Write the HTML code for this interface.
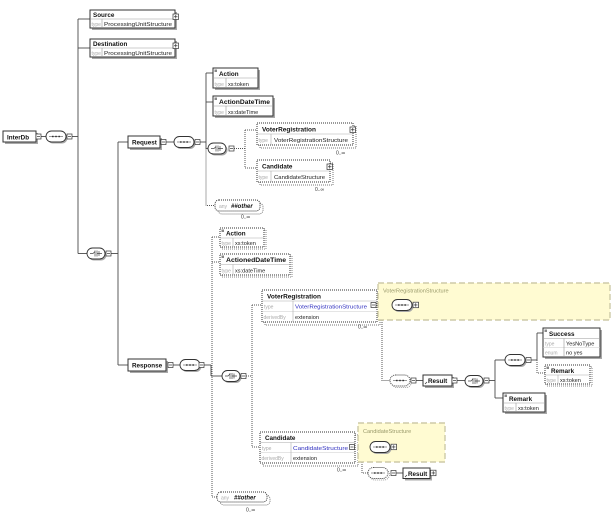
<!DOCTYPE html>
<html><head><meta charset="utf-8"><style>html,body{margin:0;padding:0;background:#fff}svg{display:block}</style></head><body>
<svg width="615" height="523" viewBox="0 0 615 523" xmlns="http://www.w3.org/2000/svg" font-family="'Liberation Sans', sans-serif">
<defs>
  <g id="seq">
    <rect x="1.5" y="1.5" width="20" height="11" rx="5.5" fill="#a8a8a8"/>
    <rect x="0" y="0" width="20" height="11" rx="5.5" fill="#fff" stroke="#333" stroke-width="0.9"/>
    <line x1="3" y1="5.5" x2="17" y2="5.5" stroke="#555" stroke-width="0.6"/>
    <rect x="6" y="4.8" width="1.6" height="1.4" fill="#333"/>
    <rect x="9.2" y="4.8" width="1.6" height="1.4" fill="#333"/>
    <rect x="12.4" y="4.8" width="1.6" height="1.4" fill="#333"/>
  </g>
  <g id="seqd">
    <rect x="1.5" y="1.5" width="20" height="11" rx="5.5" fill="none" stroke="#888" stroke-width="0.8" stroke-dasharray="1,1"/>
    <rect x="0" y="0" width="20" height="11" rx="5.5" fill="#fff" stroke="#333" stroke-width="0.9" stroke-dasharray="1,1"/>
    <line x1="3" y1="5.5" x2="17" y2="5.5" stroke="#555" stroke-width="0.6"/>
    <rect x="6" y="4.8" width="1.6" height="1.4" fill="#333"/>
    <rect x="9.2" y="4.8" width="1.6" height="1.4" fill="#333"/>
    <rect x="12.4" y="4.8" width="1.6" height="1.4" fill="#333"/>
  </g>
  <g id="cho">
    <rect x="1.5" y="1.5" width="18" height="11" rx="5.5" fill="#a8a8a8"/>
    <rect x="0" y="0" width="18" height="11" rx="5.5" fill="#fff" stroke="#333" stroke-width="0.9"/>
    <path d="M3 5.5H6L8 3.5M8 2.5V8.5M10 2.5V8.5M10 5.5H12M12 3V8M12 5.5H15" fill="none" stroke="#444" stroke-width="0.7"/>
  </g>
  <g id="em">
    <rect x="0" y="0" width="5" height="5" fill="#fff" stroke="#333" stroke-width="0.7"/>
    <line x1="1" y1="2.5" x2="4" y2="2.5" stroke="#333" stroke-width="0.7"/>
  </g>
  <g id="ep">
    <rect x="0" y="0" width="5.5" height="5.5" fill="#fff" stroke="#333" stroke-width="0.7"/>
    <line x1="1" y1="2.75" x2="4.5" y2="2.75" stroke="#333" stroke-width="0.7"/>
    <line x1="2.75" y1="1" x2="2.75" y2="4.5" stroke="#333" stroke-width="0.7"/>
  </g>
</defs>

<g stroke="#4a4a4a" stroke-width="0.9" fill="none">
  <line x1="41" y1="136.5" x2="46" y2="136.5"/>
  <line x1="72" y1="136.5" x2="78" y2="136.5"/>
  <line x1="78" y1="19" x2="78" y2="253.5"/>
  <line x1="78" y1="19" x2="90" y2="19"/>
  <line x1="78" y1="48" x2="90" y2="48"/>
  <line x1="78" y1="253.5" x2="87" y2="253.5"/>
  <line x1="111" y1="253.5" x2="118" y2="253.5"/>
  <line x1="118" y1="142" x2="118" y2="365"/>
  <line x1="118" y1="142" x2="128" y2="142"/>
  <line x1="118" y1="365" x2="128" y2="365"/>
  <line x1="166" y1="142" x2="174" y2="142"/>
  <line x1="200" y1="142" x2="206" y2="142"/>
  <line x1="206" y1="73" x2="206" y2="148.5"/>
  <line x1="206" y1="73" x2="213" y2="73"/>
  <line x1="206" y1="102" x2="213" y2="102"/>
  <line x1="206" y1="148.5" x2="208" y2="148.5"/>
  <line x1="173" y1="365" x2="180" y2="365"/>
  <line x1="204" y1="365" x2="211" y2="365"/>
  <line x1="211" y1="365" x2="211" y2="376"/>
  <line x1="211" y1="376" x2="222" y2="376"/>
  <line x1="376" y1="305" x2="392" y2="305"/>
  <line x1="416" y1="380.5" x2="423" y2="380.5"/>
  <line x1="457" y1="380.5" x2="465" y2="380.5"/>
  <line x1="489" y1="380.5" x2="495" y2="380.5"/>
  <line x1="495" y1="360" x2="495" y2="398"/>
  <line x1="495" y1="360" x2="505" y2="360"/>
  <line x1="495" y1="398" x2="503" y2="398"/>
  <line x1="531" y1="360" x2="537" y2="360"/>
  <line x1="537" y1="333" x2="537" y2="360"/>
  <line x1="537" y1="333" x2="543" y2="333"/>
  <line x1="355" y1="447" x2="370" y2="447"/>
  <line x1="396" y1="473" x2="403" y2="473"/>
</g>
<g stroke="#555" stroke-width="1" fill="none" stroke-dasharray="1,1">
  <path d="M206 148.5V205.5H215"/>
  <path d="M234 148.5H245M245 130V168M245 130H257M245 168H257"/>
  <path d="M212 237V497H217M212 237H220M212 262H220"/>
  <path d="M246 376H252M252 305V447M252 305H262M252 447H260"/>
  <path d="M382 320V380.5H390"/>
  <path d="M537 360V373H545"/>
  <path d="M362 462V473H368"/>
</g>

<!-- InterDb -->
<rect x="5" y="133" width="33" height="11" fill="#a8a8a8"/>
<rect x="3" y="131" width="33" height="11" fill="#fff" stroke="#333" stroke-width="1"/>
<text x="7" y="139.5" font-size="6.3" font-weight="bold" fill="#111">InterDb</text>
<use href="#em" x="36" y="134"/>
<use href="#seq" x="46" y="131"/>
<use href="#em" x="67" y="134"/>

<!-- Source -->
<rect x="92" y="12" width="85" height="18" fill="#a8a8a8"/>
<rect x="90" y="10" width="85" height="18" fill="#fff" stroke="#333"/>
<line x1="90" y1="19" x2="175" y2="19" stroke="#999" stroke-width="0.6"/>
<line x1="102" y1="19" x2="102" y2="28" stroke="#999" stroke-width="0.6"/>
<text x="93" y="17" font-size="6.3" font-weight="bold" fill="#111">Source</text>
<text x="91.5" y="26" font-size="5" fill="#aaa">type</text>
<text x="104" y="26" font-size="5.6" fill="#222" textLength="68" lengthAdjust="spacingAndGlyphs">ProcessingUnitStructure</text>
<use href="#ep" x="173" y="14"/>

<!-- Destination -->
<rect x="92" y="41" width="85" height="18" fill="#a8a8a8"/>
<rect x="90" y="39" width="85" height="18" fill="#fff" stroke="#333"/>
<line x1="90" y1="48" x2="175" y2="48" stroke="#999" stroke-width="0.6"/>
<line x1="102" y1="48" x2="102" y2="57" stroke="#999" stroke-width="0.6"/>
<text x="93" y="46" font-size="6.3" font-weight="bold" fill="#111">Destination</text>
<text x="91.5" y="55" font-size="5" fill="#aaa">type</text>
<text x="104" y="55" font-size="5.6" fill="#222" textLength="68" lengthAdjust="spacingAndGlyphs">ProcessingUnitStructure</text>
<use href="#ep" x="173" y="43"/>

<!-- root choice -->
<use href="#cho" x="87" y="248"/>
<use href="#em" x="106" y="251"/>

<!-- Request -->
<rect x="130" y="138" width="32" height="12" fill="#a8a8a8"/>
<rect x="128" y="136" width="32" height="12" fill="#fff" stroke="#333"/>
<text x="132" y="144.5" font-size="6.3" font-weight="bold" fill="#111">Request</text>
<use href="#em" x="161" y="139.5"/>
<use href="#seq" x="174" y="136.5"/>
<use href="#em" x="195" y="139.5"/>

<!-- Request / Action -->
<rect x="215" y="70" width="45" height="20" fill="#a8a8a8"/>
<rect x="213" y="68" width="45" height="20" fill="#fff" stroke="#333"/>
<line x1="213" y1="78" x2="258" y2="78" stroke="#999" stroke-width="0.6"/>
<line x1="226" y1="78" x2="226" y2="88" stroke="#999" stroke-width="0.6"/>
<rect x="214.5" y="69.5" width="2.5" height="2.5" fill="#888"/>
<text x="219" y="76" font-size="6.3" font-weight="bold" fill="#111">Action</text>
<text x="214.5" y="86" font-size="5" fill="#aaa">type</text>
<text x="228" y="86" font-size="5.6" fill="#222">xs:token</text>

<!-- Request / ActionDateTime -->
<rect x="215" y="98" width="60" height="20" fill="#a8a8a8"/>
<rect x="213" y="96" width="60" height="20" fill="#fff" stroke="#333"/>
<line x1="213" y1="106" x2="273" y2="106" stroke="#999" stroke-width="0.6"/>
<line x1="226" y1="106" x2="226" y2="116" stroke="#999" stroke-width="0.6"/>
<rect x="214.5" y="97.5" width="2.5" height="2.5" fill="#888"/>
<text x="219" y="104" font-size="6.3" font-weight="bold" fill="#111" textLength="51" lengthAdjust="spacingAndGlyphs">ActionDateTime</text>
<text x="214.5" y="114" font-size="5" fill="#aaa">type</text>
<text x="228" y="114" font-size="5.6" fill="#222">xs:dateTime</text>

<!-- Request choice -->
<use href="#cho" x="208" y="143"/>
<use href="#em" x="229" y="146"/>

<!-- Request / VoterRegistration -->
<rect x="260" y="126" width="96" height="22" fill="#fff" stroke="#777" stroke-dasharray="1,1"/>
<rect x="257" y="123" width="96" height="22" fill="#fff" stroke="#333" stroke-dasharray="1,1"/>
<line x1="257" y1="134" x2="353" y2="134" stroke="#aaa" stroke-width="0.6"/>
<line x1="271" y1="134" x2="271" y2="145" stroke="#aaa" stroke-width="0.6"/>
<text x="262" y="131.5" font-size="6.3" font-weight="bold" fill="#111" textLength="54" lengthAdjust="spacingAndGlyphs">VoterRegistration</text>
<text x="258.5" y="142" font-size="5" fill="#aaa">type</text>
<text x="274" y="142" font-size="5.6" fill="#222" textLength="74" lengthAdjust="spacingAndGlyphs">VoterRegistrationStructure</text>
<use href="#ep" x="350" y="127"/>
<text x="336" y="154.5" font-size="5" fill="#333">0..∞</text>

<!-- Request / Candidate -->
<rect x="260" y="163" width="73" height="22" fill="#fff" stroke="#777" stroke-dasharray="1,1"/>
<rect x="257" y="160" width="73" height="22" fill="#fff" stroke="#333" stroke-dasharray="1,1"/>
<line x1="257" y1="171" x2="330" y2="171" stroke="#aaa" stroke-width="0.6"/>
<line x1="271" y1="171" x2="271" y2="182" stroke="#aaa" stroke-width="0.6"/>
<text x="262" y="168.5" font-size="6.3" font-weight="bold" fill="#111">Candidate</text>
<text x="258.5" y="179" font-size="5" fill="#aaa">type</text>
<text x="274" y="179" font-size="5.6" fill="#222" textLength="51" lengthAdjust="spacingAndGlyphs">CandidateStructure</text>
<use href="#ep" x="327" y="164"/>
<text x="315" y="191" font-size="5" fill="#333">0..∞</text>

<!-- Request / ##other -->
<rect x="218" y="203" width="45" height="11" rx="4" fill="#fff" stroke="#777" stroke-dasharray="1,1"/>
<rect x="215" y="200" width="45" height="11" rx="4" fill="#fff" stroke="#333" stroke-dasharray="1,1"/>
<text x="219" y="207.8" font-size="5" fill="#aaa">any</text>
<text x="231" y="208" font-size="6" font-weight="bold" font-style="italic" fill="#111">##other</text>
<text x="241" y="218.5" font-size="5" fill="#333">0..∞</text>

<!-- Response -->
<rect x="130" y="361" width="38" height="12" fill="#a8a8a8"/>
<rect x="128" y="359" width="38" height="12" fill="#fff" stroke="#333"/>
<text x="132" y="367.5" font-size="6.3" font-weight="bold" fill="#111">Response</text>
<use href="#em" x="168" y="362.5"/>
<use href="#seq" x="180" y="359.5"/>
<use href="#em" x="199" y="362.5"/>

<!-- Response / Action -->
<rect x="222" y="230" width="44" height="19" fill="#fff" stroke="#888" stroke-dasharray="1,1"/>
<rect x="220" y="228" width="44" height="19" fill="#fff" stroke="#333" stroke-dasharray="1,1"/>
<line x1="220" y1="238" x2="264" y2="238" stroke="#aaa" stroke-width="0.6"/>
<line x1="233" y1="238" x2="233" y2="247" stroke="#aaa" stroke-width="0.6"/>
<rect x="221.5" y="229.5" width="2.5" height="2.5" fill="#888"/>
<text x="226" y="235.5" font-size="6.3" font-weight="bold" fill="#111">Action</text>
<text x="221.5" y="245" font-size="5" fill="#aaa">type</text>
<text x="235" y="245" font-size="5.6" fill="#222">xs:token</text>

<!-- Response / ActionedDateTime -->
<rect x="222" y="256" width="70" height="21" fill="#fff" stroke="#888" stroke-dasharray="1,1"/>
<rect x="220" y="254" width="70" height="21" fill="#fff" stroke="#333" stroke-dasharray="1,1"/>
<line x1="220" y1="264.5" x2="290" y2="264.5" stroke="#aaa" stroke-width="0.6"/>
<line x1="233" y1="264.5" x2="233" y2="275" stroke="#aaa" stroke-width="0.6"/>
<rect x="221.5" y="255.5" width="2.5" height="2.5" fill="#888"/>
<text x="226" y="262" font-size="6.3" font-weight="bold" fill="#111" textLength="60" lengthAdjust="spacingAndGlyphs">ActionedDateTime</text>
<text x="221.5" y="272.5" font-size="5" fill="#aaa">type</text>
<text x="235" y="272.5" font-size="5.6" fill="#222">xs:dateTime</text>

<!-- Response choice -->
<use href="#cho" x="222" y="370.5"/>
<use href="#em" x="241" y="373.5"/>

<!-- Response / VoterRegistration -->
<rect x="265" y="293" width="115" height="32" fill="#fff" stroke="#777" stroke-dasharray="1,1"/>
<rect x="262" y="290" width="115" height="32" fill="#fff" stroke="#333" stroke-dasharray="1,1"/>
<line x1="262" y1="301" x2="377" y2="301" stroke="#aaa" stroke-width="0.6"/>
<line x1="262" y1="311.5" x2="377" y2="311.5" stroke="#ccc" stroke-width="0.6"/>
<line x1="293" y1="301" x2="293" y2="322" stroke="#aaa" stroke-width="0.6"/>
<text x="267" y="298.5" font-size="6.3" font-weight="bold" fill="#111" textLength="54" lengthAdjust="spacingAndGlyphs">VoterRegistration</text>
<text x="264" y="308.5" font-size="5" fill="#aaa">type</text>
<text x="295" y="308.5" font-size="5.6" fill="#3030c0" textLength="72" lengthAdjust="spacingAndGlyphs">VoterRegistrationStructure</text>
<text x="263.5" y="319" font-size="5" fill="#aaa">derivedBy</text>
<text x="295" y="319" font-size="5.6" fill="#222">extension</text>
<use href="#em" x="371" y="302.5"/>
<text x="358" y="328.5" font-size="5" fill="#333">0..∞</text>

<!-- VoterRegistrationStructure yellow -->
<rect x="378" y="283" width="232" height="37" fill="#fffbd2" stroke="#cdcaa8" stroke-width="1.4" stroke-dasharray="6,3"/>
<text x="383" y="292.5" font-size="5.6" fill="#99996a">VoterRegistrationStructure</text>
<use href="#seq" x="392" y="299.5"/>
<use href="#ep" x="413" y="302.2"/>

<!-- dotted seq -> Result -->
<use href="#seqd" x="390" y="375"/>
<use href="#em" x="411" y="378"/>
<rect x="425" y="377" width="29" height="11" fill="#a8a8a8"/>
<rect x="423" y="375" width="29" height="11" fill="#fff" stroke="#333"/>
<path d="M425 384L427 382" stroke="#333" stroke-width="0.7"/>
<text x="428" y="383" font-size="6.3" font-weight="bold" fill="#111">Result</text>
<use href="#em" x="452" y="378"/>
<use href="#cho" x="465" y="375.5"/>
<use href="#em" x="484" y="378"/>
<use href="#seq" x="505" y="354.5"/>
<use href="#em" x="526" y="357.5"/>

<!-- Success -->
<rect x="545" y="330" width="57" height="29" fill="#a8a8a8"/>
<rect x="543" y="328" width="57" height="29" fill="#fff" stroke="#333"/>
<line x1="543" y1="338.5" x2="600" y2="338.5" stroke="#999" stroke-width="0.6"/>
<line x1="543" y1="347.5" x2="600" y2="347.5" stroke="#ccc" stroke-width="0.6"/>
<line x1="564" y1="338.5" x2="564" y2="357" stroke="#999" stroke-width="0.6"/>
<rect x="544.5" y="329.5" width="2.5" height="2.5" fill="#888"/>
<text x="549" y="336" font-size="6.3" font-weight="bold" fill="#111">Success</text>
<text x="545" y="345.5" font-size="5" fill="#aaa">type</text>
<text x="566" y="345.5" font-size="5.6" fill="#222">YesNoType</text>
<text x="545" y="354.5" font-size="5" fill="#aaa">enum</text>
<text x="566" y="354.5" font-size="5.6" fill="#222">no yes</text>

<!-- Remark (optional) -->
<rect x="547" y="367" width="45" height="19" fill="#fff" stroke="#888" stroke-dasharray="1,1"/>
<rect x="545" y="365" width="45" height="19" fill="#fff" stroke="#333" stroke-dasharray="1,1"/>
<line x1="545" y1="375" x2="590" y2="375" stroke="#aaa" stroke-width="0.6"/>
<line x1="558" y1="375" x2="558" y2="384" stroke="#aaa" stroke-width="0.6"/>
<rect x="546.5" y="366.5" width="2.5" height="2.5" fill="#888"/>
<text x="551" y="373" font-size="6.3" font-weight="bold" fill="#111">Remark</text>
<text x="546.5" y="382" font-size="5" fill="#aaa">type</text>
<text x="560" y="382" font-size="5.6" fill="#222">xs:token</text>

<!-- Remark (mandatory) -->
<rect x="505" y="395" width="42" height="19" fill="#a8a8a8"/>
<rect x="503" y="393" width="42" height="19" fill="#fff" stroke="#333"/>
<line x1="503" y1="403" x2="545" y2="403" stroke="#999" stroke-width="0.6"/>
<line x1="516" y1="403" x2="516" y2="412" stroke="#999" stroke-width="0.6"/>
<rect x="504.5" y="394.5" width="2.5" height="2.5" fill="#888"/>
<text x="509" y="401" font-size="6.3" font-weight="bold" fill="#111">Remark</text>
<text x="504.5" y="410" font-size="5" fill="#aaa">type</text>
<text x="518" y="410" font-size="5.6" fill="#222">xs:token</text>

<!-- Response / Candidate -->
<rect x="263" y="435" width="95" height="31" fill="#fff" stroke="#777" stroke-dasharray="1,1"/>
<rect x="260" y="432" width="95" height="31" fill="#fff" stroke="#333" stroke-dasharray="1,1"/>
<line x1="260" y1="442.5" x2="355" y2="442.5" stroke="#aaa" stroke-width="0.6"/>
<line x1="260" y1="452.5" x2="355" y2="452.5" stroke="#ccc" stroke-width="0.6"/>
<line x1="291" y1="442.5" x2="291" y2="463" stroke="#aaa" stroke-width="0.6"/>
<text x="265" y="440" font-size="6.3" font-weight="bold" fill="#111">Candidate</text>
<text x="262" y="450" font-size="5" fill="#aaa">type</text>
<text x="293" y="450" font-size="5.6" fill="#3030c0" textLength="55" lengthAdjust="spacingAndGlyphs">CandidateStructure</text>
<text x="261.5" y="460" font-size="5" fill="#aaa">derivedBy</text>
<text x="293" y="460" font-size="5.6" fill="#222">extension</text>
<use href="#em" x="349.5" y="444.5"/>
<text x="337" y="471.5" font-size="5" fill="#333">0..∞</text>

<!-- CandidateStructure yellow -->
<rect x="358" y="423" width="87" height="39" fill="#fffbd2" stroke="#cdcaa8" stroke-width="1.4" stroke-dasharray="6,3"/>
<text x="363" y="433" font-size="5.6" fill="#99996a">CandidateStructure</text>
<use href="#seq" x="370" y="441.5"/>
<use href="#ep" x="391" y="444.2"/>

<!-- dotted seq -> Result (candidate) -->
<use href="#seqd" x="368" y="467.5"/>
<use href="#em" x="391" y="470.5"/>
<rect x="405" y="470" width="27" height="10.5" fill="#a8a8a8"/>
<rect x="403" y="468" width="27" height="10.5" fill="#fff" stroke="#333"/>
<path d="M405 477L407 475" stroke="#333" stroke-width="0.7"/>
<text x="408" y="476" font-size="6.3" font-weight="bold" fill="#111">Result</text>
<use href="#ep" x="430.5" y="470.2"/>

<!-- Response / ##other -->
<rect x="220" y="495" width="50" height="10" rx="4" fill="#fff" stroke="#777" stroke-dasharray="1,1"/>
<rect x="217" y="492" width="50" height="10" rx="4" fill="#fff" stroke="#333" stroke-dasharray="1,1"/>
<text x="221" y="499.5" font-size="5" fill="#aaa">any</text>
<text x="234" y="499.7" font-size="6" font-weight="bold" font-style="italic" fill="#111">##other</text>
<text x="246" y="511.5" font-size="5" fill="#333">0..∞</text>
</svg>
</body></html>
